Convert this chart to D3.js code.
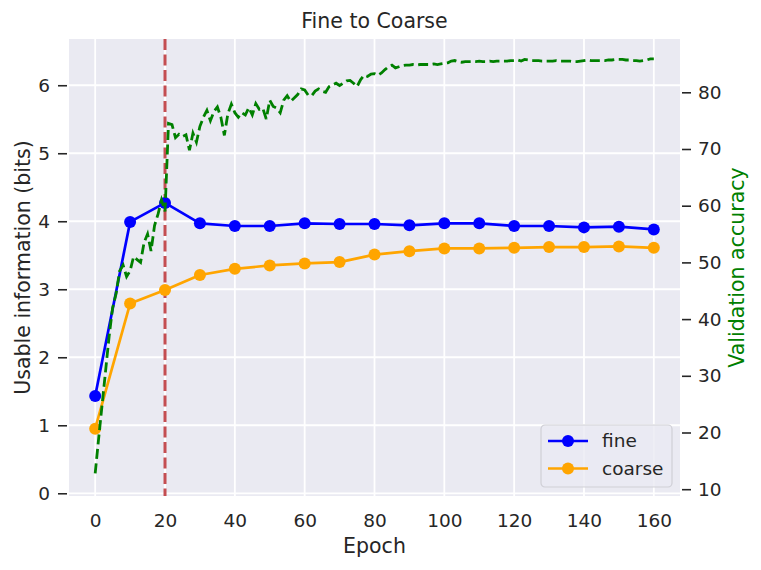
<!DOCTYPE html>
<html>
<head>
<meta charset="utf-8">
<script src="https://cdn.jsdelivr.net/npm/d3@7"></script>
<style>
    body { margin: 0; background: #fff; }
    svg { display: block; }
    svg text { font-family: "DejaVu Sans", sans-serif; }
</style>
</head>
<body>
<svg id="svg" width="761" height="570"></svg>
<script>
var epochs = [0, 10, 20, 30, 40, 50, 60, 70, 80, 90, 100, 110, 120, 130, 140, 150, 160];
var fine = [1.43, 3.99, 4.27, 3.97, 3.93, 3.93, 3.97, 3.96, 3.96, 3.94, 3.97, 3.97, 3.93, 3.93, 3.91, 3.92, 3.88];
var coarse = [0.95, 2.79, 2.99, 3.21, 3.30, 3.35, 3.38, 3.40, 3.51, 3.56, 3.60, 3.60, 3.61, 3.62, 3.62, 3.63, 3.61];

// validation accuracy, one value per epoch 0..160
var valAcc = [
    12.8, 19.0, 25.0, 31.0, 37.0, 42.0, 44.5, 48.5, 49.5, 47.5,
    48.5, 51.0, 50.5, 50.0, 53.5, 55.0, 52.0, 56.5, 58.5, 61.0,
    59.0, 74.5, 74.3, 72.0, 72.6, 72.2, 72.5, 69.8, 72.8, 71.2,
    74.0, 75.6, 76.8, 75.0, 76.6, 77.4, 75.6, 72.4, 76.2, 77.9,
    76.4, 75.6, 76.4, 76.0, 77.3, 76.0, 78.0, 77.0, 77.2, 75.3,
    78.6, 77.5, 77.2, 76.4, 78.6, 79.4, 78.4, 79.0, 79.6, 80.6,
    80.4, 79.5, 79.4, 80.2, 80.6, 80.2, 80.0, 81.0, 81.3, 81.6,
    81.2, 81.6, 82.0, 82.1, 81.6, 81.0, 82.2, 83.0, 82.8, 83.2,
    83.3, 83.0, 83.4, 84.0, 84.5, 84.8, 84.3, 84.5, 84.7, 84.8,
    84.8, 84.9, 84.8, 84.9, 84.9, 84.9, 84.9, 85.0, 84.9, 85.0,
    85.1, 85.2, 85.5, 85.6, 85.4, 85.3, 85.4, 85.4, 85.4, 85.4,
    85.5, 85.4, 85.4, 85.5, 85.4, 85.5, 85.5, 85.5, 85.5, 85.6,
    85.6, 85.7, 85.5, 85.8, 85.7, 85.6, 85.6, 85.6, 85.5, 85.5,
    85.5, 85.5, 85.6, 85.5, 85.5, 85.5, 85.5, 85.4, 85.4, 85.5,
    85.6, 85.7, 85.6, 85.6, 85.6, 85.6, 85.6, 85.7, 85.7, 85.8,
    85.8, 85.8, 85.7, 85.7, 85.6, 85.6, 85.5, 85.6, 85.7, 85.9,
    85.9
];

var xTicks = [0, 20, 40, 60, 80, 100, 120, 140, 160];
var leftTicks = [0, 1, 2, 3, 4, 5, 6];
var rightTicks = [10, 20, 30, 40, 50, 60, 70, 80];
var markEpoch = 20;

var plot = {left: 69, right: 680, top: 39, bottom: 496},
    textColor = '#262626',
    font = '"DejaVu Sans", sans-serif';

var x = d3.scaleLinear().domain([-7.5, 167.5]).range([plot.left, plot.right]),
    yL = d3.scaleLinear().domain([-0.04, 6.68]).range([plot.bottom, plot.top]),
    yR = d3.scaleLinear().domain([8.8, 89.4]).range([plot.bottom, plot.top]);

var $svg = d3.select('#svg');

$svg.append('rect')
    .attr('x', plot.left)
    .attr('y', plot.top)
    .attr('width', plot.right - plot.left)
    .attr('height', plot.bottom - plot.top)
    .attr('fill', '#EAEAF2');

var $grid = $svg.append('g').attr('class', 'grid');
xTicks.forEach(function (t) {
    $grid.append('line')
        .attr('x1', x(t)).attr('x2', x(t))
        .attr('y1', plot.top).attr('y2', plot.bottom)
        .attr('stroke', '#fff').attr('stroke-width', 1.8);
});
leftTicks.forEach(function (t) {
    $grid.append('line')
        .attr('x1', plot.left).attr('x2', plot.right)
        .attr('y1', yL(t)).attr('y2', yL(t))
        .attr('stroke', '#fff').attr('stroke-width', 1.8);
});

// axes
function styleAxis($g) {
    $g.attr('font-family', font).attr('font-size', 18.5);
    $g.select('.domain').remove();
    $g.selectAll('.tick line').attr('stroke', textColor).attr('stroke-width', 1.6);
    $g.selectAll('.tick text').attr('fill', textColor);
}

$svg.append('g')
    .attr('transform', 'translate(0,' + plot.bottom + ')')
    .call(d3.axisBottom(x).tickValues(xTicks).tickFormat(d3.format('d')).tickSize(0).tickPadding(18))
    .call(styleAxis);

$svg.append('g')
    .attr('transform', 'translate(67,0)')
    .call(d3.axisLeft(yL).tickValues(leftTicks).tickFormat(d3.format('d')).tickSize(9).tickPadding(8))
    .call(styleAxis);

$svg.append('g')
    .attr('transform', 'translate(682,0)')
    .call(d3.axisRight(yR).tickValues(rightTicks).tickFormat(d3.format('d')).tickSize(9).tickPadding(7))
    .call(styleAxis);

// vertical marker
$svg.append('line')
    .attr('x1', x(markEpoch)).attr('x2', x(markEpoch))
    .attr('y1', plot.top).attr('y2', plot.bottom)
    .attr('stroke', '#C44E52')
    .attr('stroke-width', 3)
    .attr('stroke-dasharray', '11,4.5');

var $plot = $svg.append('g').attr('class', 'series');

function drawSeries(values, color) {
    var pts = epochs.map(function (e, i) { return [e, values[i]]; });
    $plot.append('path')
        .datum(pts)
        .attr('fill', 'none')
        .attr('stroke', color)
        .attr('stroke-width', 2.7)
        .attr('stroke-linejoin', 'round')
        .attr('d', d3.line().x(function (d) { return x(d[0]); }).y(function (d) { return yL(d[1]); }));
    $plot.append('g')
        .selectAll('circle')
        .data(pts)
        .enter()
        .append('circle')
        .attr('cx', function (d) { return x(d[0]); })
        .attr('cy', function (d) { return yL(d[1]); })
        .attr('r', 6)
        .attr('fill', color);
}

drawSeries(fine, 'blue');
drawSeries(coarse, 'orange');

$plot.append('path')
    .datum(valAcc)
    .attr('fill', 'none')
    .attr('stroke', 'green')
    .attr('stroke-width', 2.8)
    .attr('stroke-dasharray', '10,4.5')
    .attr('d', d3.line().x(function (d, i) { return x(i); }).y(function (d) { return yR(d); }));

// legend
var $legend = $svg.append('g').attr('transform', 'translate(541,425)');
$legend.append('rect')
    .attr('width', 131).attr('height', 62)
    .attr('rx', 4).attr('ry', 4)
    .attr('fill', '#EAEAF2').attr('fill-opacity', 0.8)
    .attr('stroke', '#cfcfd6').attr('stroke-width', 1.2);

[['fine', 'blue', 16], ['coarse', 'orange', 43.5]].forEach(function (item) {
    var $row = $legend.append('g').attr('transform', 'translate(0,' + item[2] + ')');
    $row.append('line')
        .attr('x1', 7).attr('x2', 47)
        .attr('stroke', item[1]).attr('stroke-width', 2.7);
    $row.append('circle').attr('cx', 27).attr('r', 6).attr('fill', item[1]);
    $row.append('text')
        .attr('x', 61).attr('dy', '0.35em')
        .attr('fill', textColor)
        .style('font-size', '18.5px')
        .text(item[0]);
});

// labels
$svg.append('text')
    .attr('x', (plot.left + plot.right) / 2).attr('y', 27.5)
    .attr('text-anchor', 'middle')
    .attr('fill', textColor)
    .style('font-size', '20.5px')
    .text('Fine to Coarse');

$svg.append('text')
    .attr('x', (plot.left + plot.right) / 2).attr('y', 553)
    .attr('text-anchor', 'middle')
    .attr('fill', textColor)
    .style('font-size', '20.5px')
    .text('Epoch');

$svg.append('text')
    .attr('transform', 'translate(30,' + (plot.top + plot.bottom) / 2 + ') rotate(-90)')
    .attr('text-anchor', 'middle')
    .attr('fill', textColor)
    .style('font-size', '20.5px')
    .text('Usable information (bits)');

$svg.append('text')
    .attr('transform', 'translate(744,' + (plot.top + plot.bottom) / 2 + ') rotate(-90)')
    .attr('text-anchor', 'middle')
    .attr('fill', 'green')
    .style('font-size', '20.5px')
    .text('Validation accuracy');
</script>
</body>
</html>
